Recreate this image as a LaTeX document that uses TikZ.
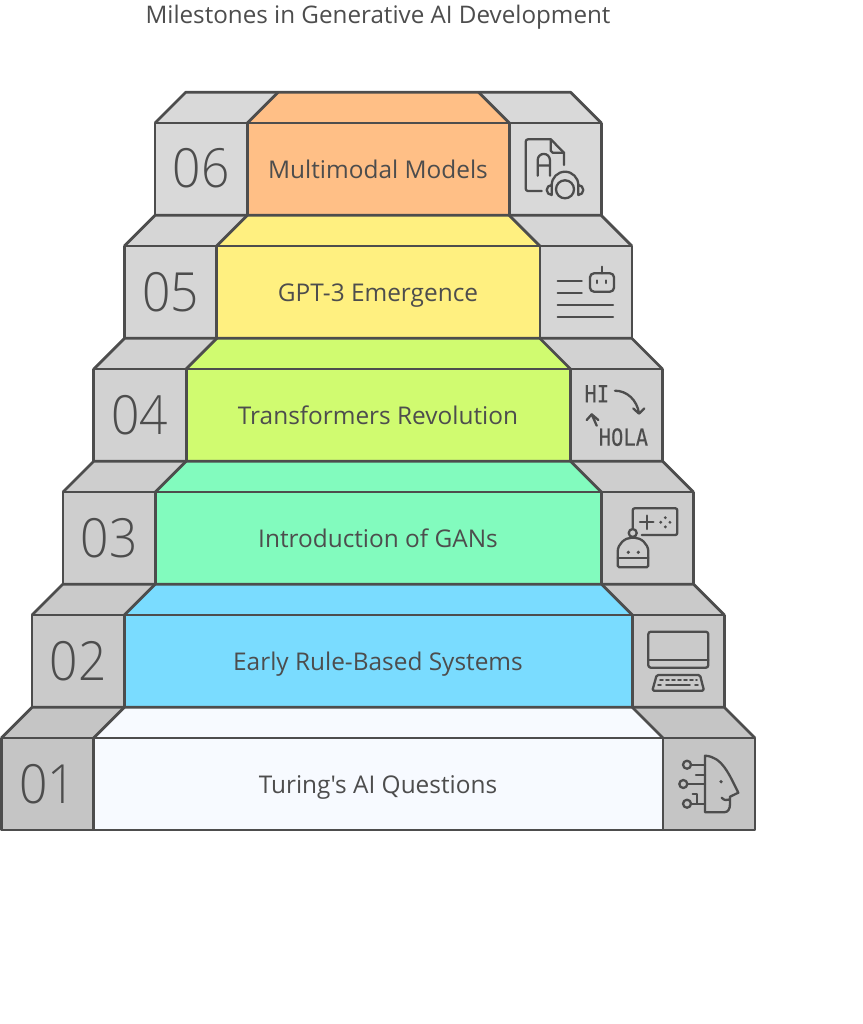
\documentclass[tikz,border=0pt]{standalone}
\usepackage{fontspec}
\newfontfamily\labelfont{Open Sans}
\newfontfamily\numfont{Open Sans Light}
\newfontfamily\iconmono[FakeBold=0.25]{DejaVu Sans Mono}
\definecolor{ink}{HTML}{4D4D4D}
\definecolor{faceA}{HTML}{F7FAFF}
\definecolor{faceB}{HTML}{7ADCFF}
\definecolor{faceC}{HTML}{82FBBE}
\definecolor{faceD}{HTML}{D0FB70}
\definecolor{faceE}{HTML}{FFF080}
\definecolor{faceF}{HTML}{FFBF86}
\definecolor{greyA}{HTML}{C5C5C5}
\definecolor{greyB}{HTML}{CACACA}
\definecolor{greyC}{HTML}{CECECE}
\definecolor{greyD}{HTML}{D2D2D2}
\definecolor{greyE}{HTML}{D6D6D6}
\definecolor{greyF}{HTML}{D9D9D9}
\tikzset{
  x=1pt,y=-1pt,
  edge/.style={draw=ink,line width=2.8pt,line join=round},
  ico/.style={draw=ink,line width=2.3pt,line cap=round,line join=round},
  thinico/.style={draw=ink,line width=1.8pt,line cap=round,line join=round},
  lbl/.style={text=ink,font=\labelfont\fontsize{24.4}{28}\selectfont,inner sep=0pt,anchor=base},
  numlbl/.style={text=ink,font=\numfont\fontsize{54}{60}\selectfont,inner sep=0pt,anchor=base},
  monolbl/.style={text=ink,font=\iconmono\fontsize{20.5}{24}\selectfont,inner sep=0pt,anchor=base},
}
% #1 name, #2 left x, #3 top y, #4 face colour, #5 grey, #6 number, #7 label
\newcommand{\stairstep}[7]{%
  \pgfmathsetmacro{\la}{#2}\pgfmathsetmacro{\lb}{#2+92.3}
  \pgfmathsetmacro{\rb}{756.3-#2}\pgfmathsetmacro{\ra}{\rb-92}
  \pgfmathsetmacro{\tu}{#3-30.7}\pgfmathsetmacro{\bo}{#3+92}
  \pgfmathsetmacro{\cy}{#3+46}
  \pgfmathsetmacro{\sh}{30.7}
  \fill[#5] (\la,#3) -- (\la+\sh,\tu) -- (\lb+\sh,\tu) -- (\lb,#3) -- cycle;
  \fill[#5] (\rb,#3) -- (\rb-\sh,\tu) -- (\ra-\sh,\tu) -- (\ra,#3) -- cycle;
  \fill[#4] (\lb,#3) -- (\lb+\sh,\tu) -- (\ra-\sh,\tu) -- (\ra,#3) -- cycle;
  \path[edge,fill=#5] (\la,#3) rectangle (\lb,\bo);
  \path[edge,fill=#5] (\ra,#3) rectangle (\rb,\bo);
  \path[edge,fill=#4] (\lb,#3) rectangle (\ra,\bo);
  \draw[edge] (\la,#3) -- (\la+\sh,\tu) -- (\rb-\sh,\tu) -- (\rb,#3);
  \draw[edge] (\lb,#3) -- (\lb+\sh,\tu) (\ra,#3) -- (\ra-\sh,\tu);
  \node[numlbl] (num#1) at ({(\la+\lb)/2},\cy+19) {\scalebox{0.92}[1]{#6}};
  \node[lbl] (label#1) at (378,\cy+9.3) {#7};
}
\begin{document}
\begin{tikzpicture}
\useasboundingbox (0,0) rectangle (862,1024);
\fill[white] (0,0) rectangle (862,1024);
\node[lbl,font=\labelfont\fontsize{24.2}{28}\selectfont] (title) at (378,24) {Milestones in Generative AI Development};

\stairstep{six}{155}{123}{faceF}{greyF}{06}{Multimodal Models}
\stairstep{five}{124.4}{246}{faceE}{greyE}{05}{GPT-3 Emergence}
\stairstep{four}{93.8}{369}{faceD}{greyD}{04}{Transformers Revolution}
\stairstep{three}{63}{492}{faceC}{greyC}{03}{Introduction of GANs}
\stairstep{two}{32}{615}{faceB}{greyB}{02}{Early Rule-Based Systems}
\stairstep{one}{1.3}{738}{faceA}{greyA}{01}{Turing's AI Questions}

% document + headset icon
\draw[ico] (541.7,191) -- (528,191) arc[start angle=90,end angle=180,radius=2.3] -- (525.7,141.6) arc[start angle=180,end angle=270,radius=2.3] -- (550.7,139.3) -- (564,152.7) -- (564,165);
\draw[ico] (550.7,139.3) -- (550.7,150.7) -- (552.7,152.7) -- (564,152.7);
\draw[ico] (537.7,175.7) -- (537.7,160) arc[start angle=180,end angle=360,radius=6.1] -- (549.9,175.7) (537.7,165.5) -- (549.9,165.5);
\draw[ico] (565,189.3) circle[radius=9];
\draw[ico] (551.7,185) arc[start angle=180,end angle=360,radius=13.3];
\draw[ico] (551.7,185) arc[start angle=270,end angle=90,radius=5] -- cycle;
\draw[ico] (578.3,185) arc[start angle=270,end angle=450,radius=5] -- cycle;

% text + robot icon
\draw[ico] (557.7,280.7) -- (581.7,280.7) (557.7,292.7) -- (581.7,292.7) (557.7,305) -- (613,305) (557.7,317.3) -- (613,317.3);
\draw[ico,rounded corners=4pt] (590,273.3) rectangle (614,291.7);
\draw[ico] (601.7,266.7) -- (601.7,273.3) (597.3,280.5) -- (597.3,283) (605.7,280.5) -- (605.7,283);

% translation icon
\node[monolbl] (hi) at (596.8,402.3) {\scalebox{1}[1.15]{HI}};
\node[monolbl] (hola) at (623.4,445.7) {\scalebox{1}[1.15]{HOLA}};
\draw[ico] (615,390.7) .. controls (627,390.7) and (637,400) .. (639,413.3);
\draw[ico] (633.3,408.5) -- (639,413.6) -- (644.3,408.5);
\draw[ico] (596.7,425.7) -- (591.7,414.3) (586.7,420) -- (591.7,414.3) -- (598.3,420);

% game + robot icon
\draw[ico,rounded corners=2pt] (632.7,528) -- (632.7,508.3) -- (677.3,508.3) -- (677.3,535) -- (641.7,535);
\draw[ico] (640,522.3) -- (653.4,522.3) (646.7,515.6) -- (646.7,529);
\foreach \dx/\dy in {-4.6/0,4.6/0,0/-4.6,0/4.6} \fill[ink] (665.3+\dx,522.3+\dy) circle[radius=1.6];
\draw[ico] (632.7,533) circle[radius=4];
\draw[ico,rounded corners=1.5pt] (617.7,557.7) -- (617.7,553) .. controls (617.7,544) and (625,537.7) .. (633,537.7) .. controls (641,537.7) and (648.3,544) .. (648.3,553) -- (648.3,567.3) -- (617.7,567.3) -- cycle;
\draw[ico] (617.7,558) -- (648.3,558);
\fill[ink] (628.3,552.3) circle[radius=1.8] (638.3,552.3) circle[radius=1.8];

% computer icon
\draw[ico,rounded corners=2.5pt] (648.3,631.7) rectangle (708.3,667.7);
\draw[ico] (648.3,660) -- (708.3,660);
\draw[ico,rounded corners=1.5pt] (656.7,675) -- (700,675) -- (704,690.7) -- (652.3,690.7) -- cycle;
\draw[thinico] (660,680) -- (663,680) (666,680) -- (669,680) (672,680) -- (675,680) (678,680) -- (681,680) (684,680) -- (687,680) (690,680) -- (693,680) (696,680) -- (697,680);
\draw[thinico] (658,685.3) -- (661,685.3) (666,685.3) -- (690,685.3) (695,685.3) -- (698,685.3);

% AI head icon
\draw[ico] (705,755.7) .. controls (722,756.5) and (729,774) .. (738.3,792.7) -- (730,796.7) -- (730,804) .. controls (730,809) and (728,812.3) .. (724,812.3) -- (705,812.3) -- cycle;
\draw[ico] (721.7,797.7) .. controls (724,800.5) and (727,800.5) .. (729.5,799.5);
\fill[ink] (721,781.7) circle[radius=1.8];
\draw[ico] (687,764.7) circle[radius=4] (683.3,784) circle[radius=4] (687,803.7) circle[radius=4];
\draw[ico] (691,764.7) -- (705,764.7) (696,775) -- (705,775) (687.3,784) -- (705,784) (691,803.7) -- (705,803.7) (692.7,794) -- (697.3,794) -- (697.3,803.7);
\end{tikzpicture}
\end{document}
